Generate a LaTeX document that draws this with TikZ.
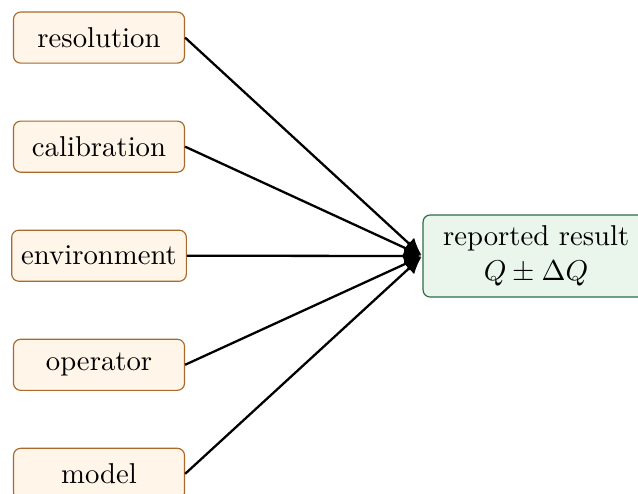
\documentclass[tikz,border=0pt]{standalone}
\usetikzlibrary{arrows.meta}
\definecolor{srcfill}{HTML}{FFF5E8}
\definecolor{srcdraw}{HTML}{A8692A}
\definecolor{outfill}{HTML}{EAF6EC}
\definecolor{outdraw}{HTML}{2E6B45}
\begin{document}
\begin{tikzpicture}[
  src/.style={draw=srcdraw, fill=srcfill, rounded corners=2.5pt, minimum width=59.6pt, minimum height=17.8pt, inner sep=3.33pt},
  outbox/.style={draw=outdraw, fill=outfill, rounded corners=2.5pt, minimum width=78.8pt, minimum height=28.6pt, align=center},
  conn/.style={thick, -{Latex[length=6pt,width=5.5pt]}, shorten >=0.4pt}
]
\useasboundingbox (0,0) rectangle (222.3pt,-171.8pt);
\node[src] (res) at (34.5pt,-13.1pt) {resolution};
\node[src] (cal) at (34.5pt,-51.1pt) {calibration};
\node[src] (env) at (34.5pt,-89.1pt) {environment};
\node[src] (op) at (34.5pt,-127.1pt) {operator};
\node[src] (mod) at (34.5pt,-165.1pt) {model};
\node[outbox] (out) at (186.8pt,-89.2pt) {reported result\\$Q\pm\Delta Q$};
\foreach \n in {res,cal,env,op,mod}
  \draw[conn] (\n.east) -- (out.west);
\end{tikzpicture}
\end{document}
